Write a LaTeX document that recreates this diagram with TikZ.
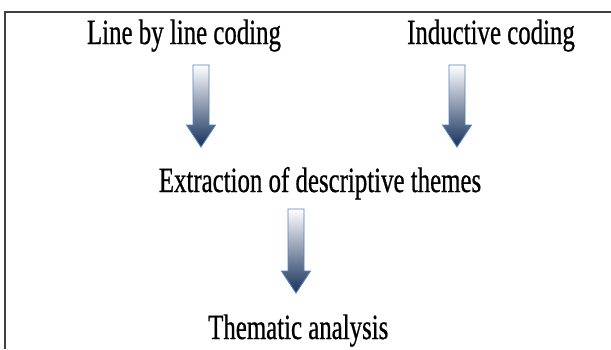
\documentclass[tikz,border=0pt]{standalone}
\usepackage{fontspec}
\setmainfont{Liberation Serif}[FakeStretch=0.7, FakeBold=0.6]
\definecolor{arrowline}{HTML}{4F81BD}
\definecolor{arrowdark}{HTML}{17305A}
\definecolor{framegray}{HTML}{404040}
\tikzset{
  label text/.style={inner sep=0pt, font=\fontsize{35.5}{40}\selectfont, text=black},
  blockarrow/.style={draw=arrowline, line width=0.9pt, line join=miter,
    top color=white, bottom color=arrowdark},
}
% #1 centre x, #2 top y, #3 tip y
\newcommand\myblockarrow[3]{%
  \begin{scope}[shift={(#1,#2)}]
    \pgfmathsetmacro\hs{#3-#2-22}
    \pgfmathsetmacro\tp{#3-#2}
    \path[blockarrow] (-8,0) -- (8,0) -- (8,\hs) -- (14.5,\hs) -- (0,\tp)
      -- (-14.5,\hs) -- (-8,\hs) -- cycle;
  \end{scope}}
\begin{document}
\begin{tikzpicture}[x=1pt, y=-1pt]
\useasboundingbox (0,0) rectangle (611,349);
\draw[framegray, line width=1.2pt] (611,12) -- (5,12) -- (5,349);
\node[label text, anchor=base] (line) at (184,44) {Line by line coding};
\node[label text, anchor=base] (induct) at (491,44) {Inductive coding};
\node[label text, anchor=base] (extract) at (320,192) {Extraction of descriptive themes};
\node[label text, anchor=base west] (thematic) at (208,339) {Thematic analysis};
\myblockarrow{201}{65}{147}
\myblockarrow{457}{65}{147}
\myblockarrow{296}{209}{293}
\end{tikzpicture}
\end{document}
